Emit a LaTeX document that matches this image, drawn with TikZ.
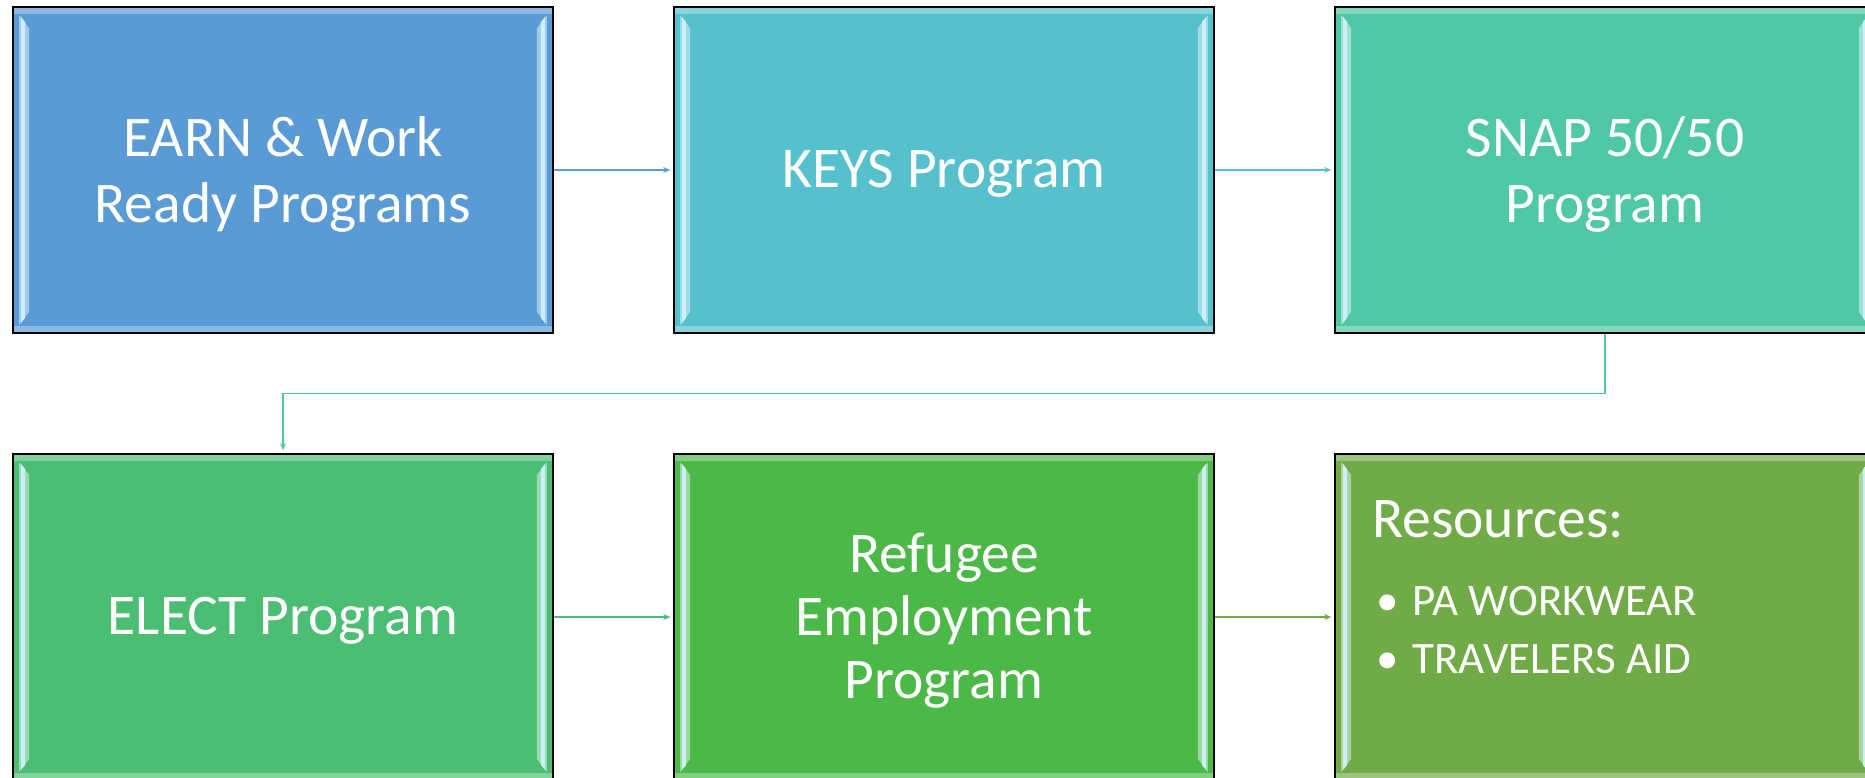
\documentclass[tikz,border=0pt]{standalone}
\usepackage{fontspec}
\setmainfont{Carlito}
\usetikzlibrary{arrows.meta,calc}
\definecolor{cA}{RGB}{91,155,213}
\definecolor{cB}{RGB}{86,192,205}
\definecolor{cC}{RGB}{80,200,165}
\definecolor{cD}{RGB}{75,190,115}
\definecolor{cE}{RGB}{76,184,72}
\definecolor{cF}{RGB}{113,171,72}
\tikzset{
  box/.style={draw=black, line width=1.6pt, minimum width=540pt, minimum height=326pt,
    inner sep=0pt, align=center, text=white, font=\fontsize{57.5}{66}\selectfont},
  label/.style={inner sep=0pt, align=center, text=white, font=\fontsize{57.5}{66}\selectfont},
  conn/.style={line width=1.3pt, -{Stealth[length=7pt,width=6pt]}, shorten >=3pt},
  restext/.style={text=white, inner sep=0pt, anchor=base west}
}
\newcommand{\bevel}[2]{%
  \fill[#2!55!white] ($(#1.north west)+(7,9)$) -- ($(#1.north west)+(17,22)$) -- ($(#1.south west)+(17,-22)$) -- ($(#1.south west)+(7,-9)$) -- cycle;
  \fill[white!80!cyan] ($(#1.north west)+(9,11)$) -- ($(#1.north west)+(13,16)$) -- ($(#1.south west)+(13,-16)$) -- ($(#1.south west)+(9,-11)$) -- cycle;
  \fill[#2!55!white] ($(#1.north east)+(-7,9)$) -- ($(#1.north east)+(-17,22)$) -- ($(#1.south east)+(-17,-22)$) -- ($(#1.south east)+(-7,-9)$) -- cycle;
  \fill[white!80!cyan] ($(#1.north east)+(-9,11)$) -- ($(#1.north east)+(-13,16)$) -- ($(#1.south east)+(-13,-16)$) -- ($(#1.south east)+(-9,-11)$) -- cycle;
  \fill[#2!70!white] ($(#1.north west)+(2,2)$) rectangle ($(#1.north east)+(-2,8)$);
  \fill[#2!70!white] ($(#1.south west)+(2,-2)$) rectangle ($(#1.south east)+(-2,-8)$);
}
\begin{document}
\begin{tikzpicture}[x=1pt,y=-1pt]
\useasboundingbox (0,0) rectangle (1865,778);
\node[box, fill=cA] (earn) at (283,170) {};
\node[box, fill=cB] (keys) at (944,170) {};
\node[box, fill=cC] (snap) at (1605,170) {};
\node[box, fill=cD] (elect) at (283,617) {};
\node[box, fill=cE] (refu) at (944,617) {};
\node[box, fill=cF] (res) at (1605,617) {};
\bevel{earn}{cA}
\bevel{keys}{cB}
\bevel{snap}{cC}
\bevel{elect}{cD}
\bevel{refu}{cE}
\bevel{res}{cF}
\node[label] (t1) at ($(earn.center)+(0,4)$) {EARN \& Work\\Ready Programs};
\node[label] (t2) at ($(keys.center)+(0,4)$) {KEYS Program};
\node[label] (t3) at ($(snap.center)+(0,4)$) {SNAP 50/50\\Program};
\node[label] (t4) at ($(elect.center)+(0,4)$) {ELECT Program};
\node[label, font=\fontsize{57.5}{63}\selectfont] (t5) at ($(refu.center)+(0,4)$) {Refugee\\Employment\\Program};
\node[restext, font=\fontsize{57.5}{66}\selectfont] (r0) at (1372,537) {Resources:};
\node[restext, font=\fontsize{45}{52}\selectfont] (r1) at (1376,615) {•\hspace{14pt}PA WORKWEAR};
\node[restext, font=\fontsize{45}{52}\selectfont] (r2) at (1376,673) {•\hspace{14pt}TRAVELERS AID};
\draw[conn, cA] (earn.east) -- (keys.west);
\draw[conn, cB] (keys.east) -- (snap.west);
\draw[conn, cC] (snap.south) -- ++(0,60) -| (elect.north);
\draw[conn, cD] (elect.east) -- (refu.west);
\draw[conn, cF] (refu.east) -- (res.west);
\end{tikzpicture}
\end{document}
